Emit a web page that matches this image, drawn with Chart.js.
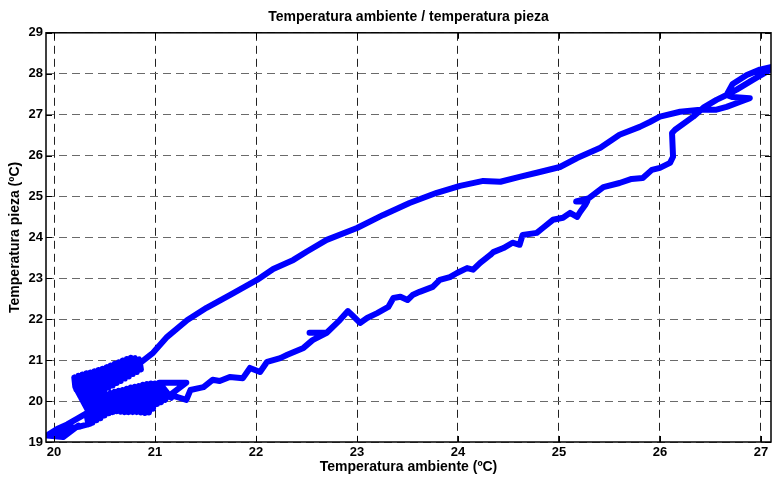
<!DOCTYPE html>
<html>
<head>
<meta charset="utf-8">
<script src="https://cdn.jsdelivr.net/npm/chart.js@4.4.1/dist/chart.umd.min.js"></script>
<style>
  body { margin: 0; background: #fff; }
</style>
</head>
<body>
<canvas id="grafica" width="772" height="477"></canvas>
<script>
// Temperatura ambiente (eje x) y temperatura de la pieza (eje y), en orden temporal
const ambiente = [
  // arranque abajo a la izquierda
  20.24, 20.09, 19.93, 20.03, 20.13, 20.23, 20.32,
  // nube inferior
  20.34, 20.36, 20.38, 20.40, 20.42, 20.44, 20.46, 20.48, 20.50, 20.52,
  20.54, 20.56, 20.58, 20.60, 20.62, 20.64, 20.66, 20.68, 20.70, 20.72,
  20.74, 20.76, 20.78, 20.80, 20.82, 20.84, 20.86, 20.88, 20.90, 20.92,
  20.94, 20.96, 20.98, 21.00, 21.02, 21.04, 21.06, 21.08, 21.10, 21.13,
  21.16, 21.04, 21.31, 21.15, 21.31, 21.35,
  // calentamiento
  21.48, 21.57, 21.64, 21.74, 21.87, 21.94, 22.04, 22.11, 22.24, 22.31,
  22.47, 22.56, 22.70, 22.53, 22.70, 22.83, 22.91, 22.96, 23.03, 23.10,
  23.20, 23.31, 23.36, 23.43, 23.50, 23.55, 23.62, 23.75, 23.82, 23.92,
  23.99, 24.09, 24.15, 24.22, 24.32, 24.35, 24.45, 24.54, 24.61, 24.64,
  24.78, 24.84, 24.94, 25.04, 25.11, 25.18, 25.21, 25.26, 25.28, 25.17,
  25.29, 25.44, 25.60, 25.72, 25.83, 25.92, 26.00, 26.10, 26.13, 26.12,
  26.15, 26.33, 26.43, 26.56, 26.66, 26.72, 26.86, 26.99, 27.11, 27.20,
  // vuelta arriba a la derecha
  27.11, 26.92, 26.76, 26.66, 26.72, 26.89, 26.79, 26.66, 26.56, 26.40,
  // enfriamiento
  26.20, 26.00, 25.90, 25.80, 25.60, 25.41, 25.18, 25.01, 24.78, 24.61,
  24.42, 24.25, 24.02, 23.79, 23.52, 23.26, 23.00, 22.70, 22.50, 22.37,
  22.17, 22.01, 21.74, 21.51, 21.32, 21.12, 20.98, 20.85,
  // nube superior
  20.86, 20.84, 20.82, 20.80, 20.78, 20.76, 20.74, 20.72, 20.70, 20.68,
  20.66, 20.64, 20.62, 20.60, 20.58, 20.56, 20.54, 20.52, 20.50, 20.48,
  20.46, 20.44, 20.42, 20.40, 20.38, 20.36, 20.34, 20.32, 20.30, 20.28,
  20.26, 20.24, 20.22, 20.20,
  // bajada final
  20.21, 20.33, 20.36, 20.26, 20.16, 20.06, 19.95, 19.90
];

const pieza = [
  19.40, 19.12, 19.16, 19.32, 19.43, 19.57, 19.70,
  19.43, 20.02, 19.47, 20.05, 19.53, 20.08, 19.58, 20.12, 19.65, 20.16,
  19.70, 20.20, 19.73, 20.23, 19.75, 20.25, 19.74, 20.27, 19.73, 20.30,
  19.73, 20.33, 19.73, 20.35, 19.73, 20.37, 19.72, 20.40, 19.71, 20.42,
  19.72, 20.43, 19.81, 20.43, 19.93, 20.42, 19.97, 20.16, 20.03, 20.16,
  20.08, 20.45, 20.45, 20.15, 20.03, 20.27,
  20.34, 20.52, 20.49, 20.59, 20.56, 20.81, 20.71, 20.96, 21.05, 21.13,
  21.30, 21.49, 21.67, 21.67, 21.67, 21.98, 22.20, 22.08, 21.91, 22.03,
  22.15, 22.30, 22.52, 22.55, 22.47, 22.59, 22.67, 22.79, 22.96, 23.03,
  23.13, 23.25, 23.21, 23.38, 23.57, 23.64, 23.74, 23.87, 23.82, 24.06,
  24.11, 24.23, 24.43, 24.48, 24.60, 24.50, 24.62, 24.79, 24.88, 24.88,
  24.95, 25.23, 25.33, 25.43, 25.45, 25.65, 25.70, 25.82, 25.97, 26.55,
  26.63, 26.95, 27.17, 27.36, 27.48, 27.75, 27.97, 28.10, 28.17, 28.19,
  28.12, 27.85, 27.61, 27.48, 27.43, 27.40, 27.31, 27.19, 27.12, 27.12,
  27.07, 26.95, 26.82, 26.70, 26.51, 26.19, 25.94, 25.72, 25.58, 25.48,
  25.36, 25.38, 25.26, 25.09, 24.84, 24.55, 24.23, 23.94, 23.65, 23.45,
  23.23, 22.96, 22.59, 22.28, 21.98, 21.57, 21.18, 20.93,
  20.77, 21.02, 20.71, 21.05, 20.66, 21.06, 20.60, 21.03, 20.55, 20.99,
  20.49, 20.95, 20.44, 20.91, 20.38, 20.87, 20.33, 20.83, 20.24, 20.79,
  20.12, 20.76, 20.02, 20.73, 19.95, 20.70, 19.90, 20.68, 19.97, 20.65,
  20.12, 20.62, 20.28, 20.58,
  20.35, 19.80, 19.45, 19.38, 19.34, 19.25, 19.17, 19.15
];

const ticksX = [20, 21, 22, 23, 24, 25, 26, 27];
const ticksY = [19, 20, 21, 22, 23, 24, 25, 26, 27, 28, 29];

const fuente = "'Liberation Sans', Arial, sans-serif";

// Marco negro y marcas hacia dentro, como en MATLAB
const marco = {
  id: 'marco',
  afterDatasetsDraw(chart) {
    const { ctx, chartArea: a, scales: { x, y } } = chart;
    ctx.save();
    ctx.strokeStyle = '#000';
    ctx.lineWidth = 1;
    ctx.beginPath();
    x.ticks.forEach(t => {
      const px = Math.round(x.getPixelForValue(t.value)) + 0.5;
      ctx.moveTo(px, a.top); ctx.lineTo(px, a.top + 6);
      ctx.moveTo(px, a.bottom); ctx.lineTo(px, a.bottom - 6);
    });
    y.ticks.forEach(t => {
      const py = Math.round(y.getPixelForValue(t.value)) + 0.5;
      ctx.moveTo(a.left, py); ctx.lineTo(a.left + 6, py);
      ctx.moveTo(a.right, py); ctx.lineTo(a.right - 6, py);
    });
    ctx.stroke();
    ctx.lineWidth = 1.5;
    ctx.strokeRect(a.left, a.top, a.right - a.left, a.bottom - a.top);
    ctx.restore();
  }
};

new Chart(document.getElementById('grafica'), {
  type: 'scatter',
  data: {
    datasets: [{
      data: ambiente.map((v, i) => ({ x: v, y: pieza[i] })),
      showLine: true,
      borderColor: '#0000ff',
      borderWidth: 6,
      borderJoinStyle: 'round',
      borderCapStyle: 'round',
      pointRadius: 0,
      tension: 0,
      clip: 0
    }]
  },
  options: {
    responsive: false,
    animation: false,
    devicePixelRatio: 1,
    layout: { padding: { right: 1, left: 0 } },
    plugins: {
      legend: { display: false },
      tooltip: { enabled: false },
      title: {
        display: true,
        fullSize: false,
        text: 'Temperatura ambiente / temperatura pieza',
        color: '#000',
        font: { family: fuente, size: 14, weight: 'bold' },
        padding: { top: 9, bottom: 7 }
      }
    },
    scales: {
      x: {
        type: 'linear',
        min: 19.92,
        max: 27.10,
        afterBuildTicks: s => { s.ticks = ticksX.map(v => ({ value: v })); },
        afterFit: s => { s.height = 35; },
        ticks: {
          color: '#000',
          padding: 3,
          font: { family: fuente, size: 13, weight: 'bold' },
          callback: v => v
        },
        grid: { color: '#222', lineWidth: 1, drawTicks: false },
        border: { display: false, dash: [8, 5] },
        title: {
          display: true,
          text: 'Temperatura ambiente (ºC)',
          color: '#000',
          font: { family: fuente, size: 14, weight: 'bold' },
          padding: { top: 0, bottom: 1 }
        }
      },
      y: {
        type: 'linear',
        min: 19,
        max: 29,
        afterBuildTicks: s => { s.ticks = ticksY.map(v => ({ value: v })); },
        afterFit: s => { s.width = 46; },
        ticks: {
          color: '#000',
          padding: 3,
          font: { family: fuente, size: 13, weight: 'bold' },
          callback: v => v
        },
        grid: { color: '#6a6a6a', lineWidth: 1, drawTicks: false },
        border: { display: false, dash: [8, 5] },
        title: {
          display: true,
          text: 'Temperatura pieza (ºC)',
          color: '#000',
          font: { family: fuente, size: 14, weight: 'bold' },
          padding: { top: 7, bottom: 0 }
        }
      }
    }
  },
  plugins: [marco]
});
</script>
</body>
</html>
